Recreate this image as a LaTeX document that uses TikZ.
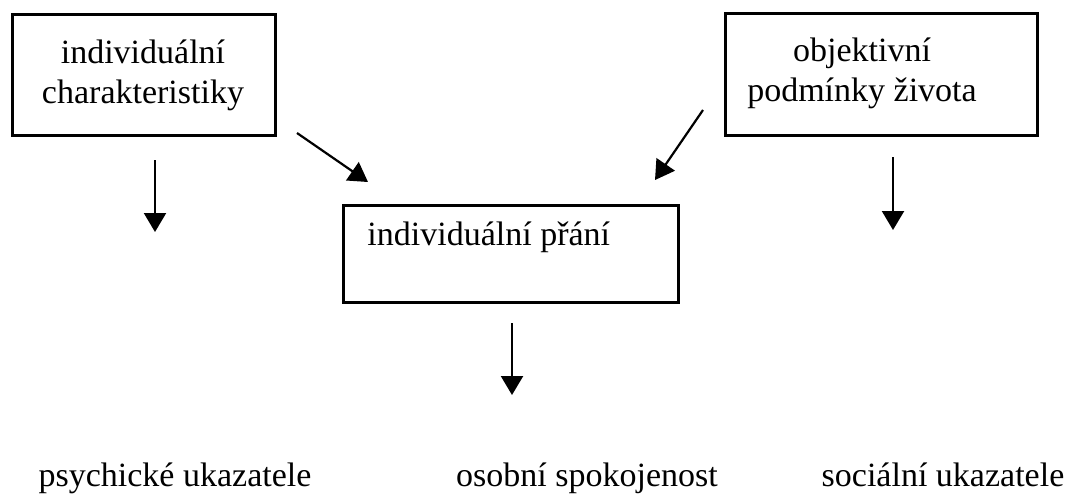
\documentclass[tikz,border=0pt]{standalone}
\usepackage{fontspec}
\setmainfont{Liberation Serif}
\usetikzlibrary{arrows.meta}
\begin{document}
\begin{tikzpicture}[x=0.5pt,y=-0.5pt,
  boxstyle/.style={draw=black,line width=1.5pt,rectangle,inner sep=0pt},
  txt/.style={inner sep=0pt,font=\fontsize{17}{20}\selectfont,align=center},
  arr/.style={line width=1.1pt,-{Triangle[length=9.5pt,width=11pt]}}]
\useasboundingbox (0,0) rectangle (1075,494);
% boxes
\node[boxstyle,minimum width=131.5pt,minimum height=60.5pt] (b1) at (143.5,74.5) {};
\node[txt] (t1) at (143,75) {individuální\\charakteristiky};
\node[boxstyle,minimum width=156pt,minimum height=61pt] (b2) at (881,74) {};
\node[txt] (t2) at (862,73) {objektivní\\podmínky života};
\node[boxstyle,minimum width=167.5pt,minimum height=48.5pt] (b3) at (510.5,253.5) {};
\node[txt,anchor=west] (t3) at (367,237) {individuální přání};
% bottom labels
\node[txt,anchor=base] (l1) at (175,486) {psychické ukazatele};
\node[txt,anchor=base] (l2) at (587,486) {osobní spokojenost};
\node[txt,anchor=base] (l3) at (943,486) {sociální ukazatele};
% arrow endpoints
\coordinate (a1s) at (155,160); \coordinate (a1e) at (155,232);
\coordinate (a2s) at (297,133); \coordinate (a2e) at (368,182);
\coordinate (a3s) at (703,110); \coordinate (a3e) at (655,180);
\coordinate (a4s) at (893,157); \coordinate (a4e) at (893,230);
\coordinate (a5s) at (512,323); \coordinate (a5e) at (512,395);
\draw[arr] (a1s) -- (a1e);
\draw[arr] (a2s) -- (a2e);
\draw[arr] (a3s) -- (a3e);
\draw[arr] (a4s) -- (a4e);
\draw[arr] (a5s) -- (a5e);
\end{tikzpicture}
\end{document}
